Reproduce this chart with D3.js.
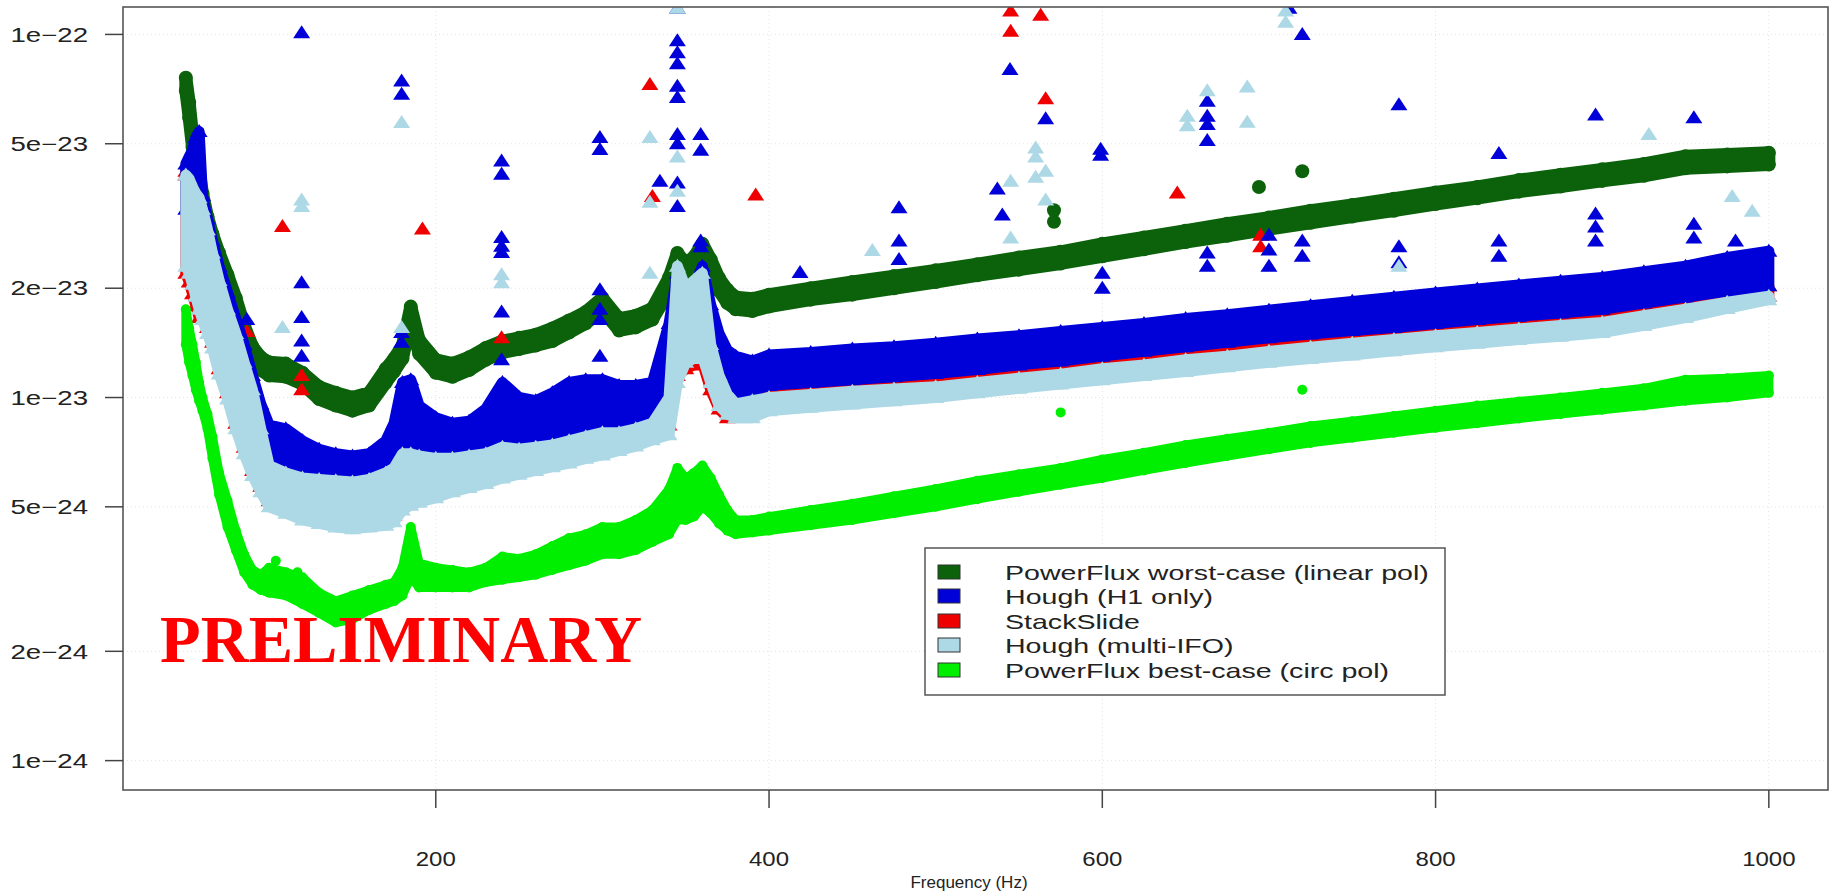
<!DOCTYPE html>
<html><head><meta charset="utf-8">
<script src="https://cdn.jsdelivr.net/npm/d3@7"></script>
<style>
body{margin:0;background:#fff;}
svg{display:block;font-family:"Liberation Sans",Arial,Helvetica,sans-serif;}
</style>
</head><body>
<svg id="c" width="1837" height="896"></svg>
<script>
// ---------------- data (values in units of 1e-24) ----------------
const freqGrid = [50,52,54,56,58,60,63,66,70,75,
  80,85,90,95,100,110,120,130,140,150,
  160,170,175,180,185,190,200,210,220,230,
  240,250,260,270,280,290,300,310,320,330,
  340,345,350,355,360,365,370,375,380,390,
  400,425,450,475,500,525,550,575,600,625,
  650,675,700,725,750,775,800,825,850,875,
  900,925,950,975,1000];

const pfWorstHi = [76,65,53,47,42,36.5,31.5,28.2,25,21.8,
  18.8,15.8,13.8,12.9,12.5,12.4,11.7,10.7,10.3,10.0,
  10.3,12.0,12.8,13.9,17.8,14.4,12.7,12.4,12.9,13.7,
  14.3,14.6,14.9,15.5,16.3,17.2,18.8,16.5,16.8,17.6,
  21.4,25,23.4,24.4,26.5,24,21.3,19.8,18.9,18.7,
  19.2,20.0,20.8,21.6,22.4,23.3,24.3,25.2,26.5,27.6,
  28.8,30.1,31.3,32.7,33.9,35.3,36.7,38.0,39.7,41.1,
  42.5,44.0,46.2,46.7,47.2];
const pfWorstLo = [70,59,49,43,38.5,33.5,28.8,25.8,23,20.2,
  17.3,14.6,12.8,11.9,11.5,11.4,10.9,9.9,9.5,9.2,
  9.5,11.0,11.8,12.8,16.2,13.2,11.7,11.4,11.9,12.7,
  13.3,13.6,13.9,14.3,15.1,16.0,17.4,15.3,15.6,16.4,
  19.6,23,21.6,22.6,24.5,22,19.7,18.2,17.5,17.3,
  17.8,18.6,19.2,20.0,20.8,21.7,22.5,23.4,24.5,25.6,
  26.8,27.9,29.1,30.3,31.5,32.7,34.1,35.4,36.9,38.1,
  39.5,40.8,42.8,43.3,43.8];

const houghH1Hi = [44,46,48,52,54,36,31,27,23,19.5,
  16.5,14,11.5,9.6,8.4,8.2,7.6,7.2,7.0,6.9,
  7.0,7.6,8.5,11.0,11.2,9.5,8.8,8.5,8.6,9.3,
  11.0,10.0,9.8,10.3,11.0,11.2,11.2,10.8,10.8,11.0,
  16,22,19,20,23,18,15,13.5,13,12.6,
  13.1,13.3,13.6,13.8,14.1,14.5,14.8,15.2,15.6,16.0,
  16.5,16.9,17.4,17.9,18.4,18.9,19.4,19.9,20.4,20.9,
  21.4,22.2,23.0,24.3,25.3];
const houghH1Lo = [33,32,31,30,28,25,22,19,16,13.5,
  11.5,10,8.5,7.5,6.2,6.0,6.0,5.9,5.8,5.75,
  5.9,6.2,6.5,7.0,7.3,7.0,6.8,6.8,6.9,7.0,
  7.2,7.2,7.3,7.4,7.6,7.8,8.0,8.0,8.2,8.5,
  10,13,13,13.5,14,12.5,11.5,10.5,10.2,10.4,
  10.8,11.0,11.2,11.4,11.65,11.95,12.3,12.6,13.0,13.4,
  13.8,14.2,14.6,14.95,15.3,15.6,16.0,16.4,16.75,17.1,
  17.5,18.2,18.9,19.6,20.3];

const stackSlideHi = [42,35,30,28,26,25,23,21,18,15,
  13,11.5,10,8.5,7.5,6.8,6.5,6.2,6.0,5.9,
  6.0,6.3,6.6,7.5,7.6,7.2,7.0,7.0,7.1,7.2,
  7.6,7.6,7.7,7.8,8.0,8.2,8.4,8.4,8.6,8.9,
  11,15,14,14.5,15,13,12,11.2,10.6,10.4,
  10.8,11.0,11.2,11.4,11.65,11.95,12.3,12.6,13.0,13.4,
  13.8,14.2,14.6,14.95,15.3,15.6,16.0,16.4,16.75,17.1,
  17.5,18.2,18.9,19.6,20.3];
const stackSlideLo = [22,20.8,19.3,17.9,16.6,17.0,15.6,14.2,12.0,10.3,
  8.5,7.3,6.3,5.7,5.2,5.0,4.8,4.7,4.6,4.5,
  4.6,4.65,4.75,5.1,5.25,5.35,5.5,5.7,5.9,6.0,
  6.25,6.4,6.55,6.7,6.85,7.05,7.2,7.45,7.65,7.95,
  8.4,11.5,12,12.3,12.5,10.5,9.3,8.8,9.6,9.8,
  10.0,10.2,10.4,10.55,10.7,11.0,11.3,11.6,12.0,12.3,
  12.7,13.0,13.4,13.75,14.1,14.45,14.8,15.1,15.45,15.8,
  16.1,16.8,17.5,18.3,19.0];

const houghMultiHi = [41,40,38,36.5,35.5,33,29,25,21,17.5,
  15,12.5,10.5,8.2,6.5,6.2,6.0,5.95,5.9,5.85,
  5.95,6.2,6.4,7.0,7.0,6.9,6.8,6.8,6.9,7.0,
  7.3,7.2,7.3,7.4,7.6,7.8,8.0,8.0,8.2,8.5,
  10,23,20,21,22,14,11.5,10.2,9.6,9.8,
  10.0,10.2,10.4,10.55,10.7,11.0,11.3,11.6,12.0,12.3,
  12.7,13.0,13.4,13.75,14.1,14.45,14.8,15.1,15.45,15.8,
  16.1,16.8,17.5,18.3,19.0];
const houghMultiLo = [23,22,20.5,19,17.5,16.4,15,13.7,11.6,9.9,
  8.2,7.0,6.1,5.5,5.0,4.8,4.6,4.5,4.4,4.35,
  4.4,4.45,4.55,4.9,5.05,5.15,5.3,5.5,5.65,5.8,
  6.0,6.15,6.3,6.45,6.6,6.8,6.95,7.15,7.35,7.65,
  7.9,11,12.5,12.8,13,11,9.5,9.0,8.8,8.8,
  9.2,9.4,9.6,9.8,10.0,10.3,10.6,10.9,11.2,11.5,
  11.8,12.15,12.5,12.8,13.1,13.45,13.8,14.1,14.45,14.75,
  15.1,15.8,16.6,17.6,18.6];

const pfBestHi = [17.5,15.5,14,12.5,11,10,9,7.8,6.2,5.2,
  4.3,3.7,3.35,3.25,3.4,3.3,3.2,2.9,2.75,2.85,
  2.95,3.05,3.1,3.4,4.4,3.5,3.4,3.35,3.3,3.4,
  3.65,3.6,3.7,3.9,4.1,4.2,4.4,4.4,4.6,4.9,
  5.6,6.4,6.0,6.2,6.5,6.0,5.4,4.9,4.6,4.6,
  4.7,4.9,5.1,5.35,5.6,5.9,6.15,6.4,6.75,7.05,
  7.4,7.7,8.0,8.35,8.6,8.9,9.2,9.5,9.75,10.0,
  10.3,10.6,11.2,11.3,11.5];
const pfBestLo = [14,12.5,11.5,10.5,9.8,9.2,8.2,6.8,5.4,4.4,
  3.8,3.3,3.05,2.95,2.9,2.85,2.7,2.55,2.4,2.45,
  2.6,2.7,2.75,2.85,3.2,3.0,3.0,3.0,3.0,3.1,
  3.15,3.2,3.25,3.35,3.45,3.55,3.7,3.7,3.8,4.0,
  4.2,4.6,4.6,4.7,5.0,4.8,4.5,4.3,4.2,4.25,
  4.3,4.45,4.6,4.8,5.0,5.25,5.5,5.75,6.0,6.3,
  6.6,6.9,7.2,7.5,7.75,8.0,8.25,8.5,8.75,9.0,
  9.25,9.5,9.8,10.0,10.3];

// isolated points (line artefacts), frequency (Hz) and value (1e-24)
const houghH1SpikeF = [78.5,79.5,86.6, 119.5,119.5,119.5,119.5,119.5, 179.5,179.5,179.5,179.5,
  239.5,239.5,239.5,239.5,239.5,239.5,239.5, 298.5,298.5,298.5,298.5,298.5,298.5,
  334.5, 345,345,345,345,345,345,345,345,345,345, 359,359,359,359,
  418.6, 478,478,478, 537,540,544.6, 566, 599,599,600,600, 663,663,663,663,663,663,
  700,700,700, 712,720,720,720, 778,778,778, 838,838,838, 896,896,896,896, 955,955,955, 980];
const houghH1SpikeV = [15.4,13,16.4, 101,20.7,16.6,14.3,13, 74.4,68.4,15.1,14.2,
  44.8,41.2,27.6,26.1,25.1,17.2,12.7, 52,48.2,19.8,17.5,16.4,13,
  39.4, 118,96,89,83,72,67,53,50,39,33.6, 53,48,27,26,
  22.1, 33.3,27,24, 37.5,31.8,80, 58.6, 48.3,46.5,22,20, 65.5,59.5,56.5,51,25,23,
  28,25.5,23, 118,100,27,24.5, 64,26,23.5, 47,27,24.5, 60,32,29.5,27, 59,30,27.5, 27];

const houghMultiSpikeF = [108,119.5,119.5,179.5,179.5,239.5,239.5,328.5,328.5,328.5,
  345,345,345, 462, 545,545, 560,560,560, 566,566, 651,651, 663, 687,687, 710,710, 928, 778, 978,990];
const houghMultiSpikeV = [15.6,35,33.6,57.2,15.6,21.8,20.7,52,34.5,22,
  118,46,37, 25.4, 39.4,27.5, 48.7,46,40.4, 42,35, 59.5,56, 70, 71.6,57.3, 116,108, 53, 23, 35.8,32.6];

const stackSlideSpikeF = [50,78.5,86.6,108,119.5,119.5,192,239.5,328.5,330,392,545,545,563,566,645,695,695];
const stackSlideSpikeV = [41,14.5,15.2,29.6,10.5,11.5,29.1,14.6,72.8,35.8,36.1,116,102,113,66.5,36.6,28,26];

const pfWorstSpikeF = [571,571,694,720];
const pfWorstSpikeV = [32.8,30.5,38,42];

const pfBestSpikeF = [104,117,575,720];
const pfBestSpikeV = [3.55,3.3,9.1,10.5];

const yTickValues = [1e-22,5e-23,2e-23,1e-23,5e-24,2e-24,1e-24];
const yTickLabels = ["1e\u221222","5e\u221223","2e\u221223","1e\u221223","5e\u221224","2e\u221224","1e\u221224"];
const xTickValues = [200,400,600,800,1000];
const xTickLabels = ["200","400","600","800","1000"];

const seriesNames = ["PowerFlux worst-case (linear pol)","Hough (H1 only)","StackSlide","Hough (multi-IFO)","PowerFlux best-case (circ pol)"];
const seriesColors = ["#0b620b","#0000d8","#ee0000","#add8e6","#00ee00"];

// ---------------- drawing ----------------
const U = 1e-24;
const svg = d3.select("#c");
const x = d3.scaleLinear().domain([12.3,1035.5]).range([123,1828]);
const y = d3.scaleLog().domain([1.19e-22,8.3e-25]).range([7,790]);

const plot = svg.append("g");
svg.append("clipPath").attr("id","pc").append("rect")
  .attr("x",x(12.3)).attr("y",y(1.19e-22)).attr("width",x(1035.5)-x(12.3)).attr("height",y(8.3e-25)-y(1.19e-22));

// faint grid
plot.selectAll("line.gy").data(yTickValues).join("line")
  .attr("x1",x(12.3)).attr("x2",x(1035.5)).attr("y1",d=>y(d)).attr("y2",d=>y(d))
  .attr("stroke","#e4e4e4").attr("stroke-width",1).attr("stroke-dasharray","1,3");
plot.selectAll("line.gx").data(xTickValues).join("line")
  .attr("y1",y(1.19e-22)).attr("y2",y(8.3e-25)).attr("x1",d=>x(d)).attr("x2",d=>x(d))
  .attr("stroke","#e4e4e4").attr("stroke-width",1).attr("stroke-dasharray","1,3");

const tri = "M0,-7.5L8.5,5.5L-8.5,5.5Z";
const series = [
  {hi:pfWorstHi, lo:pfWorstLo, sf:pfWorstSpikeF, sv:pfWorstSpikeV, color:seriesColors[0], shape:"circle", r:7, sw:13},
  {hi:stackSlideHi, lo:stackSlideLo, sf:stackSlideSpikeF, sv:stackSlideSpikeV, color:seriesColors[2], shape:"tri", sw:11},
  {hi:houghH1Hi, lo:houghH1Lo, sf:houghH1SpikeF, sv:houghH1SpikeV, color:seriesColors[1], shape:"tri", sw:11},
  {hi:houghMultiHi, lo:houghMultiLo, sf:houghMultiSpikeF, sv:houghMultiSpikeV, color:seriesColors[3], shape:"tri", sw:11},
  {hi:pfBestHi, lo:pfBestLo, sf:pfBestSpikeF, sv:pfBestSpikeV, color:seriesColors[4], shape:"circle", r:5, sw:9}
];

const area = d3.area().x(d=>x(d.f)).y0(d=>y(d.lo*U)).y1(d=>y(d.hi*U));
const pg = plot.append("g").attr("clip-path","url(#pc)");
series.forEach(s=>{
  const rows = freqGrid.map((f,i)=>({f, hi:s.hi[i], lo:s.lo[i]}));
  const g = pg.append("g");
  g.append("path").datum(rows).attr("d",area)
    .attr("fill",s.color).attr("stroke",s.color).attr("stroke-width",s.sw).attr("stroke-linejoin","round");
  const pts = [];
  rows.forEach(r=>{pts.push({f:r.f,v:r.hi});pts.push({f:r.f,v:r.lo});});
  s.sf.forEach((f,i)=>pts.push({f, v:s.sv[i]}));
  if (s.shape==="circle"){
    g.selectAll("circle").data(pts).join("circle")
      .attr("cx",d=>x(d.f)).attr("cy",d=>y(d.v*U)).attr("r",s.r).attr("fill",s.color);
  } else {
    g.selectAll("path.m").data(pts).join("path").attr("class","m")
      .attr("transform",d=>`translate(${x(d.f)},${y(d.v*U)})`).attr("d",tri).attr("fill",s.color);
  }
});

// box
svg.append("rect").attr("x",x(12.3)).attr("y",y(1.19e-22))
  .attr("width",x(1035.5)-x(12.3)).attr("height",y(8.3e-25)-y(1.19e-22))
  .attr("fill","none").attr("stroke","#555").attr("stroke-width",1.6);

function stretch(sel, k){
  sel.each(function(){const w=this.getComputedTextLength();
    this.setAttribute("textLength",(w*k).toFixed(1));this.setAttribute("lengthAdjust","spacingAndGlyphs");});
}

// y axis
const ya = svg.append("g");
ya.selectAll("line").data(yTickValues).join("line")
  .attr("x1",105).attr("x2",x(12.3)).attr("y1",d=>y(d)).attr("y2",d=>y(d))
  .attr("stroke","#444").attr("stroke-width",1.5);
ya.selectAll("text").data(yTickValues).join("text")
  .attr("x",88).attr("y",d=>y(d)).attr("dy","0.36em").attr("text-anchor","end")
  .attr("font-size",20).attr("fill","#222").text((d,i)=>yTickLabels[i]).call(stretch,1.38);

// x axis
const xa = svg.append("g");
xa.selectAll("line").data(xTickValues).join("line")
  .attr("x1",d=>x(d)).attr("x2",d=>x(d)).attr("y1",y(8.3e-25)).attr("y2",y(8.3e-25)+18)
  .attr("stroke","#444").attr("stroke-width",1.5);
xa.selectAll("text").data(xTickValues).join("text")
  .attr("x",d=>x(d)).attr("y",866).attr("text-anchor","middle")
  .attr("font-size",20).attr("fill","#222").text((d,i)=>xTickLabels[i]).call(stretch,1.2);

svg.append("text").attr("x",969).attr("y",888).attr("text-anchor","middle")
  .attr("font-size",17).attr("fill","#222").text("Frequency (Hz)").call(stretch,1.0);

// legend
const lg = svg.append("g");
lg.append("rect").attr("x",925).attr("y",548).attr("width",520).attr("height",147)
  .attr("fill","#fff").attr("stroke","#555").attr("stroke-width",1.5);
const rowsY = [572,596,621,645,670];
seriesNames.forEach((n,i)=>{
  lg.append("rect").attr("x",938).attr("y",rowsY[i]-7).attr("width",22).attr("height",14)
    .attr("fill",seriesColors[i]).attr("stroke","#333").attr("stroke-width",1);
  lg.append("text").attr("x",1005).attr("y",rowsY[i]).attr("dy","0.36em")
    .attr("font-size",21).attr("fill","#222").text(n).call(stretch,1.36);
});

// watermark
svg.append("text").attr("x",160).attr("y",662).attr("font-family","'Liberation Serif','Times New Roman',serif")
  .attr("font-weight","bold").attr("font-size",68).attr("fill","#ff0000")
  .attr("textLength",482).attr("lengthAdjust","spacingAndGlyphs").text("PRELIMINARY");
</script>
</body></html>
